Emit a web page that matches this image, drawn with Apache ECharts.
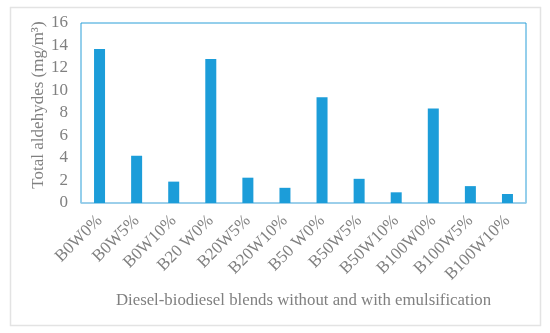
<!DOCTYPE html>
<html><head><meta charset="utf-8">
<script src="https://cdn.jsdelivr.net/npm/echarts@6/dist/echarts.min.js"></script>
<style>html,body{margin:0;padding:0;background:#fff}#c{width:550px;height:333px}</style>
</head><body><div id="c"></div>
<script>
const categories = ['B0W0%','B0W5%','B0W10%','B20 W0%','B20W5%','B20W10%','B50 W0%','B50W5%','B50W10%','B100W0%','B100W5%','B100W10%'];
const values = [13.7, 4.2, 1.9, 12.8, 2.25, 1.35, 9.4, 2.15, 0.95, 8.4, 1.5, 0.8];
const yTicks = [0, 2, 4, 6, 8, 10, 12, 14, 16];

const chart = echarts.init(document.getElementById('c'));
const font = 'Liberation Serif';
chart.setOption({
  animation: false,
  graphic: [{type:'rect', shape:{x:10.5, y:7.5, width:530, height:318}, style:{fill:'none', stroke:'#e3e3e3', lineWidth:1.5}, silent:true}],
  grid: {left: 81, right: 24, top: 23, bottom: 130, show: true, borderColor: '#2a9fd8', borderWidth: 1, backgroundColor: 'transparent'},
  xAxis: {
    type: 'category', data: categories,
    name: 'Diesel-biodiesel blends without and with emulsification',
    nameLocation: 'middle', nameGap: 89, nameMoveOverlap: false,
    nameTextStyle: {fontFamily: font, fontSize: 16.8, color: '#808080'},
    axisLine: {lineStyle: {color: '#9fd0ea', width: 1.5}},
    axisTick: {show: false},
    axisLabel: {rotate: 45, fontFamily: font, fontSize: 17, color: '#808080', margin: 15, interval: 0}
  },
  yAxis: {
    type: 'value', min: yTicks[0], max: yTicks[yTicks.length-1], interval: 2,
    name: 'Total aldehydes (mg/m³)',
    nameLocation: 'middle', nameGap: 34, nameMoveOverlap: false,
    nameTextStyle: {fontFamily: font, fontSize: 17, color: '#808080', padding: [0, 0, 0, 16]},
    axisLine: {show: false}, axisTick: {show: false}, splitLine: {show: false},
    axisLabel: {fontFamily: font, fontSize: 17, color: '#808080', margin: 13}
  },
  series: [{type: 'bar', data: values, barWidth: 11, itemStyle: {color: '#1c9dd9'}}]
});
</script></body></html>
